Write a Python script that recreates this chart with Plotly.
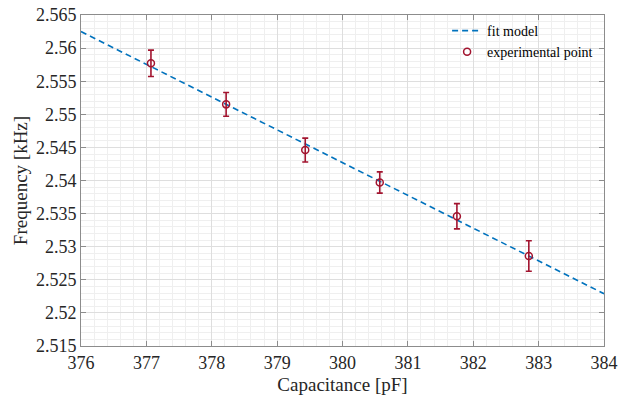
import plotly.graph_objects as go

# Data
cap_pf = [377.07, 378.22, 379.43, 380.57, 381.75, 382.85]
freq_khz = [2.5577, 2.5515, 2.5446, 2.5397, 2.5346, 2.5286]
freq_err = [0.0020, 0.0018, 0.0018, 0.0016, 0.0019, 0.0023]

fit_x = [376.0, 384.0]
fit_y = [2.5625, 2.5229]

x_ticks = [376, 377, 378, 379, 380, 381, 382, 383, 384]
y_ticks = [2.515, 2.52, 2.525, 2.53, 2.535, 2.54, 2.545, 2.55, 2.555, 2.56, 2.565]
y_tick_text = ["2.515", "2.52", "2.525", "2.53", "2.535", "2.54", "2.545", "2.55", "2.555", "2.56", "2.565"]

BLUE = "#0072BD"
RED = "#A2142F"
FONT = "Times New Roman, Liberation Serif, serif"

fig = go.Figure()
fig.add_trace(go.Scatter(
    x=fit_x, y=fit_y, mode="lines", name="fit model",
    line=dict(color=BLUE, width=1.6, dash="6px,4px"),
))
fig.add_trace(go.Scatter(
    x=cap_pf, y=freq_khz, mode="markers", name="experimental point",
    marker=dict(symbol="circle-open", size=7, color=RED, line=dict(width=1.5, color=RED)),
    error_y=dict(type="data", array=freq_err, visible=True, color=RED, thickness=1.6, width=3),
))

axis_common = dict(
    showline=True, linecolor="#8c8c8c", linewidth=1, mirror="ticks",
    ticks="inside", ticklen=5, tickcolor="#8c8c8c", tickwidth=1,
    showgrid=True, gridcolor="#dedede", gridwidth=1,
    zeroline=False, automargin=False,
)

fig.update_xaxes(
    range=[376, 384], tickvals=x_ticks,
    tickfont=dict(family=FONT, size=18, color="#262626"),
    title=dict(text="Capacitance [pF]", font=dict(family=FONT, size=19, color="#262626"), standoff=6),
    minor=dict(dtick=0.2, showgrid=True, gridcolor="#efefef", ticks=""),
    **axis_common,
)
fig.update_yaxes(
    range=[2.515, 2.565], tickvals=y_ticks, ticktext=y_tick_text,
    tickfont=dict(family=FONT, size=18, color="#262626"),
    title=dict(text="Frequency [kHz]", font=dict(family=FONT, size=19, color="#262626"), standoff=3),
    minor=dict(dtick=0.001, showgrid=True, gridcolor="#efefef", ticks=""),
    **axis_common,
)

fig.update_layout(
    width=624, height=399,
    margin=dict(l=81, r=20, t=15, b=53, autoexpand=False),
    plot_bgcolor="white", paper_bgcolor="white",
    font=dict(family=FONT, color="#262626"),
    legend=dict(
        x=0.70, y=1.0, xanchor="left", yanchor="top",
        bgcolor="rgba(0,0,0,0)", borderwidth=0,
        font=dict(family=FONT, size=14, color="#000000"),
        tracegroupgap=0, itemwidth=30,
    ),
    showlegend=True,
)

fig.write_html("out.html")
